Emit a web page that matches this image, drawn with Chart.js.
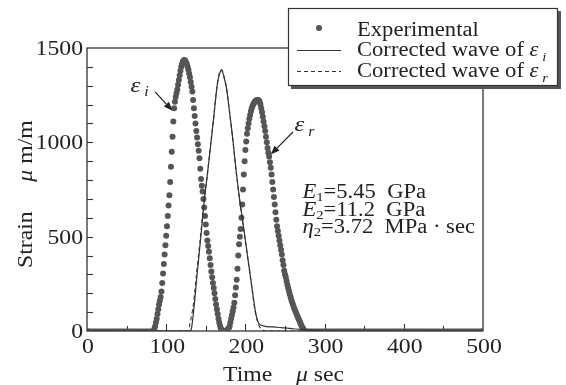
<!DOCTYPE html>
<html><head><meta charset="utf-8">
<script src="https://cdn.jsdelivr.net/npm/chart.js@4.4.0/dist/chart.umd.min.js"></script>
<style>html,body{margin:0;padding:0;background:#fff;}canvas{display:block;}</style>
</head><body>
<canvas id="c" width="566" height="385"></canvas>
<script>
// ---------- DATA ----------
const expTime = [0,
  84,85,86,87,88,89,90,91,92,93,
  94,95,96,97,98,99,100,101,102,103,
  104,105,106,107,108,109,110,111,112,113,
  114,115,116,117,118,119,120,121,122,123,
  124,125,126,127,128,129,130,131,132,133,
  134,135,136,137,138,139,140,141,142,143,
  144,145,146,147,148,149,150,151,152,153,
  154,155,156,157,158,159,160,161,162,163,
  164,165,166,167,168,169,170,171,172,173,
  174,175,176,177,178,179,180,181,182,183,
  184,185,186,187,188,189,190,191,192,193,
  194,195,196,197,198,199,200,201,202,203,
  204,205,206,207,208,209,210,211,212,213,
  214,215,216,217,218,219,220,221,222,223,
  224,225,226,227,228,229,230,231,232,233,
  234,235,236,237,238,239,240,241,242,243,
  244,245,246,247,248,249,250,251,252,253,
  254,255,256,257,258,259,260,261,262,263,
  264,265,266,267,268,269,270,271,272,273,
  274,275,
  500];
const expStrain = [0,
  0,10,25,45,65,90,115,140,160,180,
  210,255,305,355,405,455,505,555,610,665,
  720,790,870,950,1030,1110,1180,1215,1240,1260,
  1280,1305,1330,1355,1380,1400,1415,1427,1434,1436,
  1432,1425,1415,1400,1385,1365,1345,1320,1295,1270,
  1225,1180,1140,1100,1060,1025,990,955,915,860,
  805,770,740,700,655,610,565,520,480,450,
  420,385,350,315,285,255,228,200,170,140,
  115,90,65,45,28,14,5,0,0,0,
  0,0,0,5,10,15,25,45,65,85,
  105,125,150,190,230,272,330,400,460,500,
  540,600,670,750,830,900,960,1005,1045,1075,
  1100,1125,1145,1165,1180,1192,1202,1210,1216,1220,
  1223,1225,1225,1222,1215,1200,1180,1160,1135,1110,
  1085,1060,1030,1000,970,945,925,895,865,830,
  790,750,710,670,630,590,555,530,505,480,
  455,430,405,375,350,320,300,285,265,245,
  228,212,196,180,165,152,140,128,116,106,
  96,86,76,66,56,46,36,27,18,10,
  4,0,
  0];

const corrITime   = [0,130,132,135,139,144,148,152,156,160,164,167,170,173,176,180,184,188,192,196,200,204,208,212,215,218,225,240,260,285,300,500];
const corrIStrain = [0,0,15,120,300,510,690,830,980,1130,1290,1360,1383,1345,1290,1160,1020,860,720,600,480,360,240,120,60,35,25,20,12,5,0,0];

const corrRTime   = [0,127,130,134,138,143,148,152,156,160,164,167,170,173,176,180,184,188,192,196,200,204,208,212,216,220,226,500];
const corrRStrain = [0,0,40,130,290,490,700,830,985,1135,1295,1365,1385,1350,1292,1160,1018,858,716,596,474,352,232,110,40,10,0,0];

const xTickValues = [0,100,200,300,400,500];
const yTickValues = [0,500,1000,1500];
const seriesNames = ['Experimental','Corrected wave of ','Corrected wave of '];

// ---------- STYLE HELPERS ----------
const SX = 1.13;
const SERIF = '"Liberation Serif","Times New Roman",serif';
const INK = '#222';
function F(size, style){ return (style ? style + ' ' : '') + size + 'px ' + SERIF; }
function richWidth(ctx, parts){ let w = 0; for (const p of parts){ ctx.font = p.f; w += ctx.measureText(p.t).width * SX; } return w; }
function drawRich(ctx, parts, x, y, align){
  const w = richWidth(ctx, parts);
  let cx = align === 'right' ? x - w : (align === 'center' ? x - w/2 : x);
  for (const p of parts){
    ctx.font = p.f;
    const pw = ctx.measureText(p.t).width * SX;
    ctx.save();
    ctx.translate(cx, y + (p.dy || 0));
    ctx.scale(SX, 1);
    ctx.textAlign = 'left'; ctx.textBaseline = 'alphabetic';
    ctx.fillStyle = INK;
    ctx.fillText(p.t, 0, 0);
    ctx.restore();
    cx += pw;
  }
}
function arrow(ctx, x1, y1, x2, y2){
  ctx.save();
  ctx.strokeStyle = INK; ctx.fillStyle = INK; ctx.lineWidth = 1.2;
  const a = Math.atan2(y2 - y1, x2 - x1);
  const L = 9, W = 3.5;
  const bx = x2 - L*Math.cos(a), by = y2 - L*Math.sin(a);
  ctx.beginPath(); ctx.moveTo(x1, y1); ctx.lineTo(bx, by); ctx.stroke();
  ctx.beginPath();
  ctx.moveTo(x2, y2);
  ctx.lineTo(bx + W*Math.sin(a), by - W*Math.cos(a));
  ctx.lineTo(bx - W*Math.sin(a), by + W*Math.cos(a));
  ctx.closePath(); ctx.fill();
  ctx.restore();
}

const toXY = (xs, ys) => xs.map((x, i) => ({x: x, y: ys[i]}));

const decor = {
  id: 'decor',
  beforeDatasetsDraw(chart){
    const ctx = chart.ctx, a = chart.chartArea;
    const xs = chart.scales.x, ys = chart.scales.y;
    ctx.save();
    ctx.strokeStyle = '#333'; ctx.lineWidth = 1.3;
    ctx.strokeRect(a.left, a.top, a.right - a.left, a.bottom - a.top);
    ctx.lineWidth = 1.1;
    for (let v = 100; v < 1500; v += 100){
      const y = Math.round(ys.getPixelForValue(v)) + 0.5;
      ctx.beginPath(); ctx.moveTo(a.left, y); ctx.lineTo(a.left + 6, y); ctx.stroke();
    }
    for (let v = 50; v < 500; v += 50){
      const x = Math.round(xs.getPixelForValue(v)) + 0.5;
      ctx.beginPath(); ctx.moveTo(x, a.bottom); ctx.lineTo(x, a.bottom - (v % 100 === 0 ? 7 : 5)); ctx.stroke();
    }
    ctx.restore();
    for (const v of yTickValues){
      drawRich(ctx, [{t: String(v), f: F(21)}], a.left - 4, ys.getPixelForValue(v) + 7, 'right');
    }
    for (const v of xTickValues){
      drawRich(ctx, [{t: String(v), f: F(21)}], xs.getPixelForValue(v) + 1, a.bottom + 22, 'center');
    }
    drawRich(ctx, [{t: 'Time', f: F(21)}, {t: '    ', f: F(21)}, {t: 'μ', f: F(21, 'italic')}, {t: ' sec', f: F(21)}], 223, 381, 'left');
    ctx.save();
    ctx.translate(32, 268);
    ctx.rotate(-Math.PI/2);
    drawRich(ctx, [{t: 'Strain', f: F(21)}, {t: '     ', f: F(21)}, {t: 'μ', f: F(21, 'italic')}, {t: ' m/m', f: F(21)}], 0, 0, 'left');
    ctx.restore();
  },
  afterDatasetsDraw(chart){
    const ctx = chart.ctx;
    const xs = chart.scales.x, ys = chart.scales.y;
    const X = v => xs.getPixelForValue(v), Y = v => ys.getPixelForValue(v);
    drawRich(ctx, [{t: 'ε', f: F(22, 'italic')}, {t: ' i', f: F(14, 'italic'), dy: 4}], X(55), Y(1265), 'left');
    arrow(ctx, X(86), Y(1267), X(108), Y(1168));
    drawRich(ctx, [{t: 'ε', f: F(22, 'italic')}, {t: ' r', f: F(14, 'italic'), dy: 5}], X(262), Y(1060), 'left');
    arrow(ctx, X(260), Y(1055), X(232), Y(935));
    const bx = X(272);
    drawRich(ctx, [{t: 'E', f: F(20, 'italic')}, {t: '1', f: F(13), dy: 3}, {t: '=5.45  GPa', f: F(20)}], bx, Y(705), 'left');
    drawRich(ctx, [{t: 'E', f: F(20, 'italic')}, {t: '2', f: F(13), dy: 3}, {t: '=11.2  GPa', f: F(20)}], bx, Y(610), 'left');
    drawRich(ctx, [{t: 'η', f: F(20, 'italic')}, {t: '2', f: F(13), dy: 3}, {t: '=3.72  MPa · sec', f: F(20)}], bx, Y(518), 'left');
    ctx.save();
    ctx.fillStyle = '#555';
    ctx.fillRect(291, 11, 270, 78);
    ctx.fillStyle = '#fff';
    ctx.fillRect(288, 8, 270, 78);
    ctx.strokeStyle = '#333'; ctx.lineWidth = 1.2;
    ctx.strokeRect(288.5, 8.5, 269, 77);
    ctx.fillStyle = '#555';
    ctx.beginPath(); ctx.arc(319, 28, 3, 0, Math.PI*2); ctx.fill();
    ctx.strokeStyle = '#333'; ctx.lineWidth = 1.2;
    ctx.beginPath(); ctx.moveTo(297, 50.5); ctx.lineTo(341, 50.5); ctx.stroke();
    ctx.setLineDash([4, 3]);
    ctx.beginPath(); ctx.moveTo(297, 71.5); ctx.lineTo(341, 71.5); ctx.stroke();
    ctx.restore();
    drawRich(ctx, [{t: seriesNames[0], f: F(20)}], 357, 36, 'left');
    drawRich(ctx, [{t: seriesNames[1], f: F(20)}, {t: 'ε', f: F(20, 'italic')}, {t: ' i', f: F(13, 'italic'), dy: 5}], 357, 56, 'left');
    drawRich(ctx, [{t: seriesNames[2], f: F(20)}, {t: 'ε', f: F(20, 'italic')}, {t: ' r', f: F(13, 'italic'), dy: 5}], 357, 77, 'left');
  }
};

new Chart(document.getElementById('c'), {
  type: 'line',
  data: {
    datasets: [
      {
        label: seriesNames[0],
        data: toXY(expTime, expStrain),
        showLine: true,
        borderColor: '#555',
        borderWidth: 5,
        segment: {
          borderColor: c => (c.p0.parsed.y === 0 && c.p1.parsed.y === 0) ? '#555' : 'rgba(0,0,0,0)'
        },
        pointRadius: 3,
        pointBorderWidth: 0,
        pointBackgroundColor: '#555',
        tension: 0,
        order: 3
      },
      {
        label: seriesNames[1] + 'ε i',
        data: toXY(corrITime, corrIStrain),
        borderColor: '#333',
        borderWidth: 1.2,
        pointRadius: 0,
        tension: 0.25,
        order: 2
      },
      {
        label: seriesNames[2] + 'ε r',
        data: toXY(corrRTime, corrRStrain),
        borderColor: '#333',
        borderWidth: 1.1,
        borderDash: [4, 3],
        pointRadius: 0,
        tension: 0.25,
        order: 1
      }
    ]
  },
  options: {
    responsive: false,
    animation: false,
    devicePixelRatio: 1,
    layout: { padding: { left: 87, right: 83, top: 48, bottom: 54 } },
    plugins: { legend: { display: false }, tooltip: { enabled: false } },
    scales: {
      x: { type: 'linear', min: 0, max: 500, display: false },
      y: { type: 'linear', min: 0, max: 1500, display: false }
    }
  },
  plugins: [decor]
});
</script>
</body></html>
